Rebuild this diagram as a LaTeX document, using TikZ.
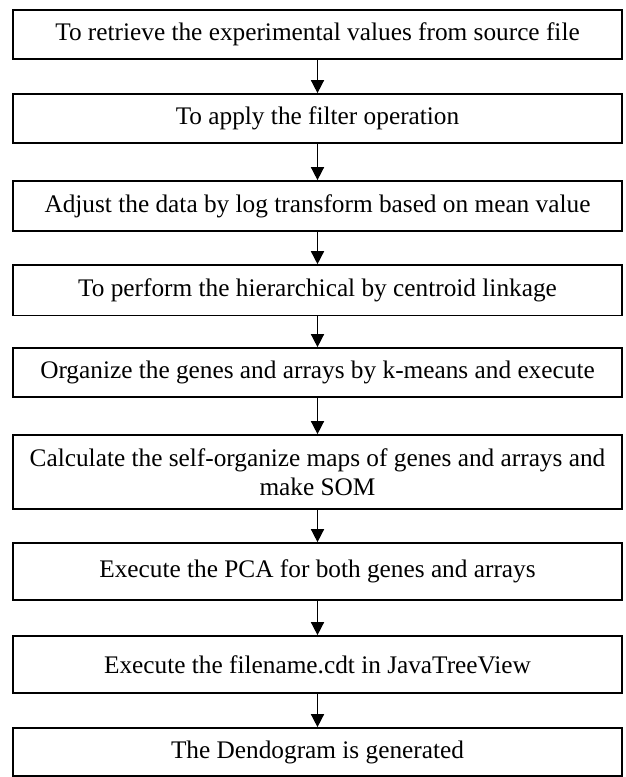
\documentclass[tikz,border=0pt]{standalone}
\usepackage{fontspec}
\setmainfont{Liberation Serif}
\usetikzlibrary{arrows.meta}
\begin{document}
\begin{tikzpicture}[x=1pt,y=-1pt,
  box/.style={draw=black, line width=1.7pt, minimum width=609pt, inner sep=0pt,
    align=center, font=\fontsize{25.3}{29}\selectfont},
  flow/.style={line width=1.5pt, -{Triangle[length=13pt,width=13pt]}}]
\useasboundingbox (0,0) rectangle (625,777);
\fill[white] (0,0) rectangle (625,777);
\node[box, minimum height=49pt] (b1) at (317.5,34.5) {To retrieve the experimental values from source file};
\node[box, minimum height=49pt] (b2) at (317.5,118.5) {To apply the filter operation};
\node[box, minimum height=50pt] (b3) at (317.5,206) {Adjust the data by log transform based on mean value};
\node[box, minimum height=50.5pt] (b4) at (317.5,290.3) {To perform the hierarchical by centroid linkage};
\node[box, minimum height=49pt] (b5) at (317.5,372.5) {Organize the genes and arrays by k-means and execute};
\node[box, minimum height=74pt] (b6) at (317.5,472) {Calculate the self-organize maps of genes and arrays and\\make SOM};
\node[box, minimum height=57pt] (b7) at (317.5,571.5) {Execute the PCA for both genes and arrays};
\node[box, minimum height=57pt] (b8) at (317.5,664.5) {Execute the filename.cdt in JavaTreeView};
\node[box, minimum height=48pt] (b9) at (317.5,752) {The Dendogram is generated};
\foreach \a/\b in {b1/b2,b2/b3,b3/b4,b4/b5,b5/b6,b6/b7,b7/b8,b8/b9}
  \draw[flow] (\a.south) -- (\b.north);
\end{tikzpicture}
\end{document}
